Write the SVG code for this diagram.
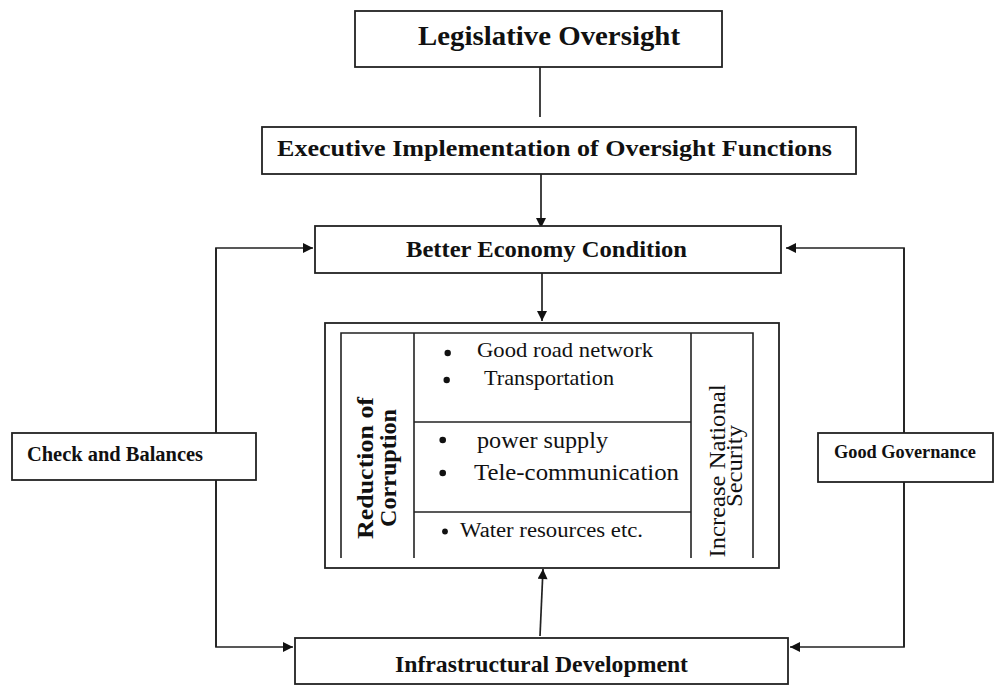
<svg xmlns="http://www.w3.org/2000/svg" width="994" height="686" viewBox="0 0 994 686">
  <defs>
    <marker id="arrow" viewBox="0 0 10 10" refX="10" refY="5" markerWidth="11" markerHeight="10" markerUnits="userSpaceOnUse" orient="auto">
      <path d="M0,0 L10,5 L0,10 Z" fill="#111"/>
    </marker>
    <style>
      .box { fill: #fff; stroke: #222; stroke-width: 1.8; }
      .rule { fill: none; stroke: #222; stroke-width: 1.6; }
      .link { fill: none; stroke: #222; stroke-width: 1.7; }
      .title { font-family: "Liberation Serif", "Times New Roman", Times, serif; font-weight: bold; fill: #111; }
      .item { font-family: "Liberation Serif", "Times New Roman", Times, serif; fill: #111; }
      .dot { fill: #111; }
    </style>
  </defs>

  <rect width="994" height="686" fill="#fff"/>

  <!-- connectors -->
  <g id="connectors">
    <line class="link" x1="540" y1="67" x2="540" y2="117"/>
    <line class="link" x1="541" y1="166" x2="541" y2="228" marker-end="url(#arrow)"/>
    <line class="link" x1="542" y1="273" x2="542" y2="321" marker-end="url(#arrow)"/>
    <line class="link" x1="540" y1="636" x2="543" y2="569" marker-end="url(#arrow)"/>
    <polyline class="link" points="216,647 216,248 313,248" marker-end="url(#arrow)"/>
    <polyline class="link" points="216,248 216,647 293,647" marker-end="url(#arrow)"/>
    <polyline class="link" points="904,647 904,248 786,248" marker-end="url(#arrow)"/>
    <polyline class="link" points="904,248 904,647 790,647" marker-end="url(#arrow)"/>
  </g>

  <!-- top of the chain -->
  <g id="legislative">
    <rect class="box" x="355" y="11" width="367" height="56"/>
    <text class="title" x="549" y="45" font-size="27.5" text-anchor="middle" textLength="262" lengthAdjust="spacingAndGlyphs">Legislative Oversight</text>
  </g>

  <g id="executive">
    <rect class="box" x="262" y="127" width="594" height="47"/>
    <text class="title" x="554.5" y="156" font-size="23" text-anchor="middle" textLength="555" lengthAdjust="spacingAndGlyphs">Executive Implementation of Oversight Functions</text>
  </g>

  <g id="economy">
    <rect class="box" x="315" y="226" width="466" height="47"/>
    <text class="title" x="546.5" y="257" font-size="23.5" text-anchor="middle" textLength="281" lengthAdjust="spacingAndGlyphs">Better Economy Condition</text>
  </g>

  <!-- central panel -->
  <g id="outcomes">
    <rect class="box" x="325" y="323" width="454" height="245"/>
    <polyline class="rule" points="341,558 341,333 753,333 753,558"/>
    <line class="rule" x1="414" y1="333" x2="414" y2="558"/>
    <line class="rule" x1="691" y1="333" x2="691" y2="558"/>
    <line class="rule" x1="414" y1="422" x2="691" y2="422"/>
    <line class="rule" x1="414" y1="512" x2="691" y2="512"/>

    <g transform="translate(373,468) rotate(-90)">
      <text class="title" x="0" y="0" font-size="22.5" text-anchor="middle" textLength="142" lengthAdjust="spacingAndGlyphs">Reduction of</text>
    </g>
    <g transform="translate(396,468) rotate(-90)">
      <text class="title" x="0" y="0" font-size="22.5" text-anchor="middle" textLength="118" lengthAdjust="spacingAndGlyphs">Corruption</text>
    </g>

    <circle class="dot" cx="447.7" cy="353" r="3.2"/>
    <text class="item" x="477" y="357" font-size="22" textLength="176" lengthAdjust="spacingAndGlyphs">Good road network</text>
    <circle class="dot" cx="446.7" cy="380" r="3.2"/>
    <text class="item" x="484" y="385" font-size="22" textLength="130" lengthAdjust="spacingAndGlyphs">Transportation</text>

    <circle class="dot" cx="442.7" cy="440" r="3.3"/>
    <text class="item" x="477" y="448" font-size="23" textLength="131" lengthAdjust="spacingAndGlyphs">power supply</text>
    <circle class="dot" cx="442.7" cy="473" r="3.3"/>
    <text class="item" x="474" y="480" font-size="23" textLength="205" lengthAdjust="spacingAndGlyphs">Tele-communication</text>

    <circle class="dot" cx="445" cy="531.5" r="2.9"/>
    <text class="item" x="460" y="537" font-size="20.5" textLength="183" lengthAdjust="spacingAndGlyphs">Water resources etc.</text>

    <g transform="translate(725,471) rotate(-90)">
      <text class="item" x="0" y="0" font-size="22.5" text-anchor="middle" textLength="173" lengthAdjust="spacingAndGlyphs">Increase National</text>
    </g>
    <g transform="translate(742,466) rotate(-90)">
      <text class="item" x="0" y="0" font-size="22.5" text-anchor="middle" textLength="82" lengthAdjust="spacingAndGlyphs">Security</text>
    </g>
  </g>

  <!-- side labels -->
  <g id="checks">
    <rect class="box" x="12" y="433" width="244" height="47"/>
    <text class="title" x="27" y="461" font-size="20.5" textLength="176" lengthAdjust="spacingAndGlyphs">Check and Balances</text>
  </g>

  <g id="governance">
    <rect class="box" x="818" y="433" width="175" height="49"/>
    <text class="title" x="834" y="458" font-size="18.5" textLength="142" lengthAdjust="spacingAndGlyphs">Good Governance</text>
  </g>

  <!-- base of the chain -->
  <g id="infrastructure">
    <rect class="box" x="295" y="638" width="493" height="46"/>
    <text class="title" x="541.5" y="672" font-size="23.5" text-anchor="middle" textLength="293" lengthAdjust="spacingAndGlyphs">Infrastructural Development</text>
  </g>
</svg>
